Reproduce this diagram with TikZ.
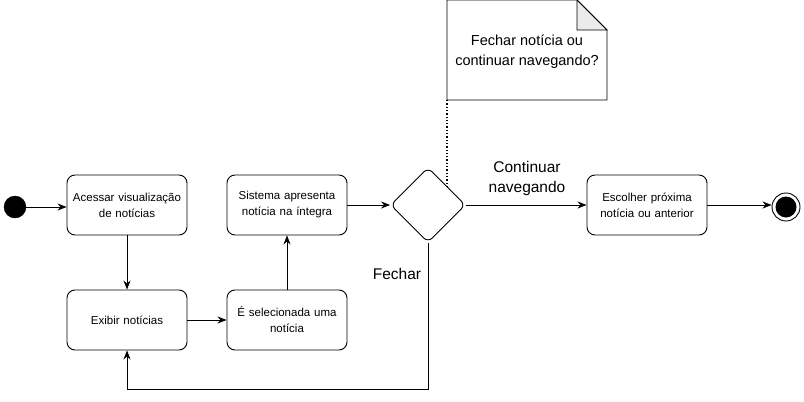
\documentclass[tikz,border=0pt]{standalone}
\usepackage{fontspec}
\setmainfont{Liberation Sans}
\usetikzlibrary{arrows.meta,shapes.geometric}
\begin{document}
\begin{tikzpicture}[x=1pt,y=-1pt,
  act/.style={draw,rounded corners=8pt,minimum width=120pt,minimum height=60pt,align=center,font=\fontsize{11.5}{16}\selectfont,line width=0.9pt,text width=118pt,inner sep=1pt},
  conn/.style={line width=0.9pt,-{Stealth[length=9pt,width=7pt]}},
  lbl/.style={font=\fontsize{15.5}{20}\selectfont,align=center},
  notetxt/.style={font=\fontsize{14.5}{20}\selectfont,align=center}]
\useasboundingbox (0,0) rectangle (804,402);
\node[circle,fill=black,draw,minimum size=22pt,inner sep=0pt] (start) at (15,207) {};
\node[act] (a1) at (127,205) {Acessar visualização\\de notícias};
\node[act] (a2) at (127,320) {Exibir notícias};
\node[act] (a3) at (287,320) {É selecionada uma\\notícia};
\node[act] (a4) at (287,205) {Sistema apresenta\\notícia na íntegra};
\node[draw,line width=0.9pt,diamond,rounded corners=6pt,minimum width=75pt,minimum height=75pt,inner sep=0pt] (d) at (428,205) {};
\node[act] (a5) at (647,205) {Escolher próxima\\notícia ou anterior};
\node[circle,draw,line width=0.9pt,minimum size=28pt,inner sep=0pt] (end) at (786,207) {};
\node[circle,fill=black,minimum size=21pt,inner sep=0pt] (endin) at (end.center) {};
% note
\draw[line width=0.9pt,fill=white] (447,0) -- (577,0) -- (607,30) -- (607,100) -- (447,100) -- cycle;
\draw[line width=0.9pt,fill=black!8] (577,0) -- (577,30) -- (607,30) -- cycle;
\node[notetxt] (note) at (527,52) {Fechar notícia ou\\continuar navegando?};
\coordinate (nb) at (447,100);
\coordinate (nd) at (447,186);
\draw[line width=1.3pt,dotted] (nb) -- (nd);
% connectors
\draw[conn] (start) -- (a1.west|-start);
\draw[conn] (a1) -- (a2);
\draw[conn] (a2) -- (a3);
\draw[conn] (a3) -- (a4);
\draw[conn] (a4) -- (d.west);
\draw[conn] (d.east) -- (a5.west);
\draw[conn] (a5.east) -- (end.west|-a5.east);
\coordinate (c1) at (428,389);
\coordinate (c2) at (127,389);
\draw[conn] (d.south) -- (c1) -- (c2) -- (a2.south);
\node[lbl] (l1) at (527,178) {Continuar\\navegando};
\node[lbl] (l2) at (397,274) {Fechar};
\end{tikzpicture}
\end{document}
